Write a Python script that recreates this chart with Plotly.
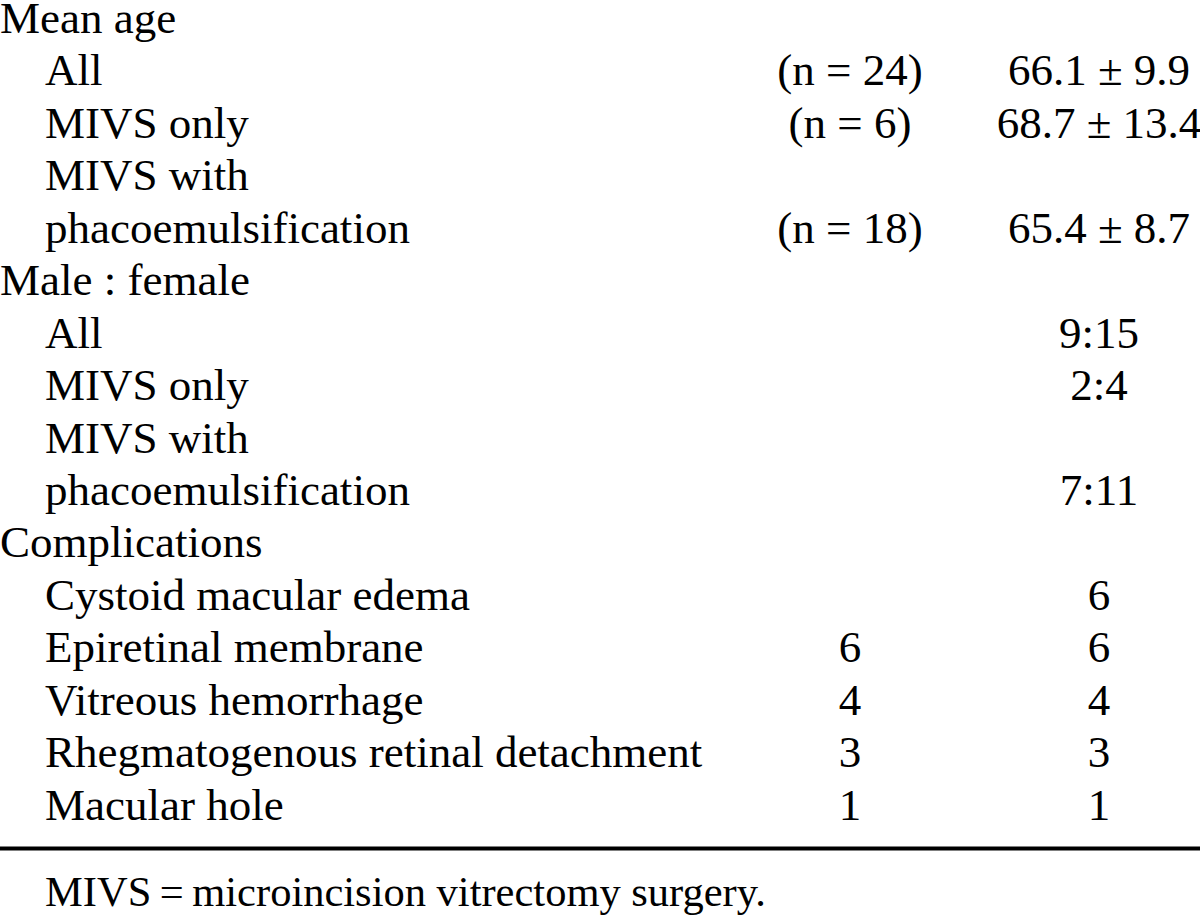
import plotly.graph_objects as go

labels = ["Mean age", "All", "MIVS only", "MIVS with", "phacoemulsification",
          "Male : female", "All", "MIVS only", "MIVS with", "phacoemulsification",
          "Complications", "Cystoid macular edema", "Epiretinal membrane",
          "Vitreous hemorrhage", "Rhegmatogenous retinal detachment", "Macular hole"]
indent = [0, 1, 1, 1, 1, 0, 1, 1, 1, 1, 0, 1, 1, 1, 1, 1]
col_n = ["", "(n = 24)", "(n = 6)", "", "(n = 18)", "", "", "", "", "", "",
         "", "6", "4", "3", "1"]
col_val = ["", "66.1 ± 9.9", "68.7 ± 13.4", "", "65.4 ± 8.7", "", "9:15", "2:4", "",
           "7:11", "", "6", "6", "4", "3", "1"]
footnote = "MIVS\u2009=\u2009microincision vitrectomy surgery."

ROW_H = 52.47
TOP = 21.5
rows = list(range(len(labels)))
FAM = "Liberation Serif, Times New Roman, serif"
FONT = dict(family=FAM, size=45, color="black")

fig = go.Figure()
fig.add_trace(go.Scatter(
    x=[0 if d == 0 else 45 for d in indent], y=rows, text=labels,
    mode="text", textposition="middle right", textfont=FONT, hoverinfo="skip",
    cliponaxis=False))
fig.add_trace(go.Scatter(
    x=[850] * len(rows), y=rows, text=col_n,
    mode="text", textposition="middle center", textfont=FONT, hoverinfo="skip",
    cliponaxis=False))
fig.add_trace(go.Scatter(
    x=[1099] * len(rows), y=rows, text=col_val,
    mode="text", textposition="middle center", textfont=FONT, hoverinfo="skip",
    cliponaxis=False))
fig.add_trace(go.Scatter(
    x=[45], y=[(895 - TOP) / ROW_H], text=[footnote],
    mode="text", textposition="middle right",
    textfont=dict(family=FAM, size=42.5, color="black"), hoverinfo="skip",
    cliponaxis=False))
fig.add_trace(go.Scatter(
    x=[0, 1200], y=[(848.5 - TOP) / ROW_H] * 2, mode="lines",
    line=dict(color="black", width=4), hoverinfo="skip"))

fig.update_layout(
    width=1200, height=918, margin=dict(l=0, r=0, t=0, b=0),
    paper_bgcolor="white", plot_bgcolor="white", showlegend=False,
    xaxis=dict(range=[0, 1200], visible=False, fixedrange=True),
    yaxis=dict(range=[(918 - TOP) / ROW_H, -TOP / ROW_H], visible=False, fixedrange=True),
)
fig.write_html("out.html", config={"displayModeBar": False},
               post_script="document.body.style.margin='0';document.body.style.overflow='hidden';")
